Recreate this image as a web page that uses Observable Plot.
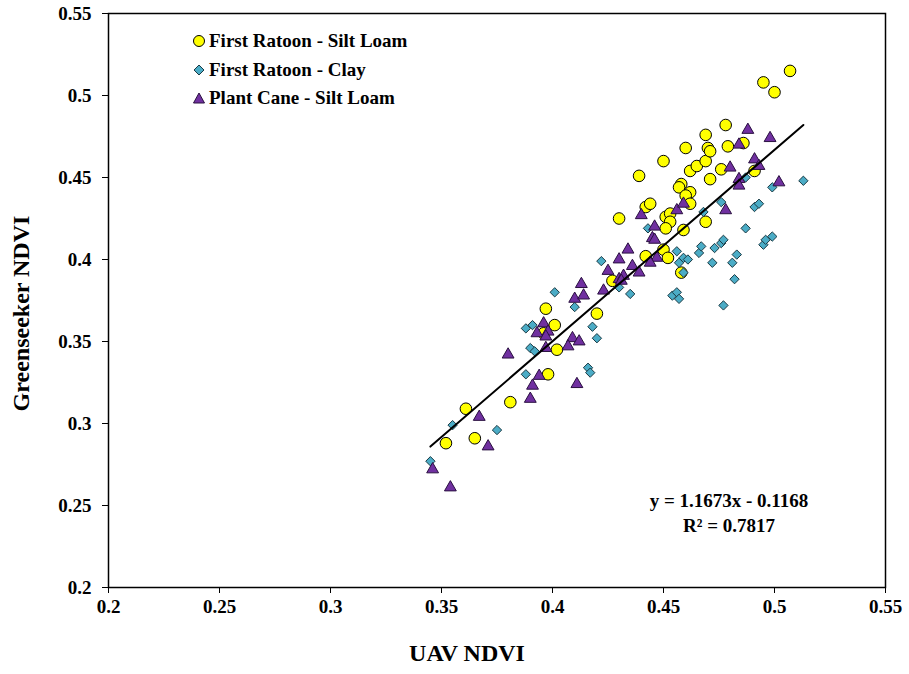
<!DOCTYPE html>
<html>
<head>
<meta charset="utf-8">
<script src="https://cdn.jsdelivr.net/npm/d3@7"></script>
<script src="https://cdn.jsdelivr.net/npm/@observablehq/plot@0.6"></script>
<style>
  body { margin: 0; background: #fff; }
  #wrap { position: relative; width: 909px; height: 674px; font-family: "Liberation Serif", "Times New Roman", serif; font-weight: bold; }
  #legend { position: absolute; left: 192px; top: 27px; font-size: 19px; }
  #legend div { display: flex; align-items: center; height: 28.5px; }
  #legend svg { margin-right: 3px; }
  #eq { position: absolute; left: 629px; top: 488px; width: 200px; text-align: center; font-size: 19px; line-height: 25px; }
</style>
</head>
<body>
<div id="wrap">
  <div id="chart"></div>
  <div id="legend"></div>
  <div id="eq"></div>
</div>
<script>
// First Ratoon - Silt Loam
const frslX = [0.352,0.361,0.365,0.381,0.398,0.396,0.397,0.401,0.402,0.420,0.427,0.430,0.439,0.442,0.444,0.442,0.450,0.450,0.452,0.451,0.453,0.453,0.451,0.459,0.469,0.458,0.458,0.457,0.462,0.460,0.462,0.471,0.462,0.465,0.469,0.476,0.470,0.471,0.460,0.469,0.478,0.479,0.486,0.491,0.495,0.500,0.507];
const frslY = [0.288,0.309,0.291,0.313,0.330,0.355,0.370,0.360,0.345,0.367,0.387,0.425,0.451,0.432,0.434,0.402,0.460,0.406,0.401,0.426,0.428,0.423,0.419,0.418,0.423,0.392,0.446,0.444,0.441,0.439,0.434,0.449,0.454,0.457,0.460,0.455,0.468,0.466,0.468,0.476,0.482,0.469,0.471,0.454,0.508,0.502,0.515];
// First Ratoon - Clay
const frcX = [0.345,0.355,0.375,0.388,0.391,0.388,0.390,0.392,0.401,0.410,0.418,0.420,0.416,0.417,0.422,0.430,0.435,0.443,0.454,0.456,0.457,0.456,0.457,0.459,0.461,0.459,0.466,0.467,0.472,0.473,0.476,0.477,0.477,0.481,0.483,0.482,0.487,0.495,0.496,0.499,0.476,0.468,0.491,0.493,0.487,0.499,0.513];
const frcY = [0.277,0.299,0.296,0.358,0.360,0.330,0.346,0.344,0.380,0.371,0.359,0.352,0.334,0.331,0.399,0.383,0.379,0.419,0.378,0.380,0.376,0.405,0.398,0.401,0.400,0.392,0.404,0.408,0.398,0.407,0.410,0.412,0.372,0.398,0.403,0.388,0.419,0.409,0.412,0.414,0.435,0.429,0.432,0.434,0.450,0.444,0.448];
// Plant Cane - Silt Loam
const pcslX = [0.488,0.498,0.484,0.491,0.493,0.480,0.502,0.484,0.484,0.478,0.456,0.459,0.440,0.446,0.445,0.446,0.434,0.430,0.447,0.436,0.439,0.444,0.425,0.430,0.432,0.431,0.423,0.413,0.410,0.414,0.396,0.393,0.398,0.397,0.409,0.412,0.407,0.397,0.380,0.394,0.391,0.390,0.411,0.367,0.371,0.346,0.354];
const pcslY = [0.479,0.474,0.470,0.461,0.457,0.456,0.447,0.449,0.445,0.430,0.430,0.434,0.427,0.420,0.413,0.412,0.406,0.400,0.401,0.396,0.392,0.398,0.393,0.388,0.390,0.387,0.381,0.385,0.376,0.378,0.361,0.355,0.356,0.353,0.352,0.350,0.347,0.346,0.342,0.329,0.323,0.315,0.324,0.304,0.286,0.272,0.261];

const seriesNames = ["First Ratoon - Silt Loam", "First Ratoon - Clay", "Plant Cane - Silt Loam"];
const xTicks = [0.2,0.25,0.3,0.35,0.4,0.45,0.5,0.55];
const xTickLabels = ["0.2","0.25","0.3","0.35","0.4","0.45","0.5","0.55"];
const yTicks = [0.2,0.25,0.3,0.35,0.4,0.45,0.5,0.55];
const yTickLabels = ["0.2","0.25","0.3","0.35","0.4","0.45","0.5","0.55"];
const slope = 1.1673, intercept = -0.1168, r2 = 0.7817;

const toRows = (xs, ys) => xs.map((x, i) => ({x, y: ys[i]}));
const frsl = toRows(frslX, frslY);
const frc = toRows(frcX, frcY);
const pcsl = toRows(pcslX, pcslY);
const allX = [...frslX, ...frcX, ...pcslX];
const [x0, x1] = d3.extent(allX);
const trend = [x0, x1].map(x => ({x, y: slope * x + intercept}));

const font = "Liberation Serif, Times New Roman, serif";
const chart = Plot.plot({
  width: 909, height: 674,
  marginLeft: 108, marginRight: 24, marginTop: 13, marginBottom: 87,
  style: {fontFamily: font, fontWeight: "bold", fontSize: "19px", color: "black", background: "white"},
  x: {domain: [0.2, 0.55], label: null},
  y: {domain: [0.2, 0.55], label: null},
  marks: [
    Plot.axisX({ticks: xTicks, tickFormat: (d, i) => xTickLabels[i], tickSize: 6, tickPadding: 6, fontSize: 19, fontWeight: "bold", label: null}),
    Plot.axisY({ticks: yTicks, tickFormat: (d, i) => yTickLabels[i], tickSize: 6, tickPadding: 11, fontSize: 19, fontWeight: "bold", label: null}),
    Plot.frame({stroke: "black", strokeWidth: 1.5}),
    Plot.dot(frsl, {x: "x", y: "y", symbol: "circle", r: 5.8, fill: "#ffff00", stroke: "black", strokeWidth: 1}),
    Plot.dot(frc, {x: "x", y: "y", symbol: "diamond2", r: 4.2, fill: "#4bacc6", stroke: "#1a3a44", strokeWidth: 1}),
    Plot.dot(pcsl, {x: "x", y: "y", symbol: "triangle", r: 4.4, fill: "#7030a0", stroke: "#2a1040", strokeWidth: 1}),
    Plot.line(trend, {x: "x", y: "y", stroke: "black", strokeWidth: 2}),
    Plot.text(["UAV NDVI"], {frameAnchor: "bottom", dy: 73, dx: -30, fontSize: 24, fontWeight: "bold", fontFamily: font}),
    Plot.text(["Greenseeker NDVI"], {frameAnchor: "left", textAnchor: "middle", dx: -87, dy: 13, rotate: -90, fontSize: 24, fontWeight: "bold", fontFamily: font})
  ]
});
document.getElementById("chart").appendChild(chart);

const legendSym = [
  `<svg width="14" height="14"><circle cx="7" cy="7" r="5.5" fill="#ffff00" stroke="black" stroke-width="1"/></svg>`,
  `<svg width="14" height="14"><path d="M7,2 L12,7 L7,12 L2,7 Z" fill="#4bacc6" stroke="#1a3a44" stroke-width="1"/></svg>`,
  `<svg width="14" height="14"><path d="M7,2 L12.5,12 L1.5,12 Z" fill="#7030a0" stroke="#2a1040" stroke-width="1"/></svg>`
];
document.getElementById("legend").innerHTML = seriesNames.map((n, i) => `<div>${legendSym[i]}<span>${n}</span></div>`).join("");
document.getElementById("eq").innerHTML = `y = ${slope}x - ${Math.abs(intercept)}<br>R² = ${r2}`;
</script>
</body>
</html>
